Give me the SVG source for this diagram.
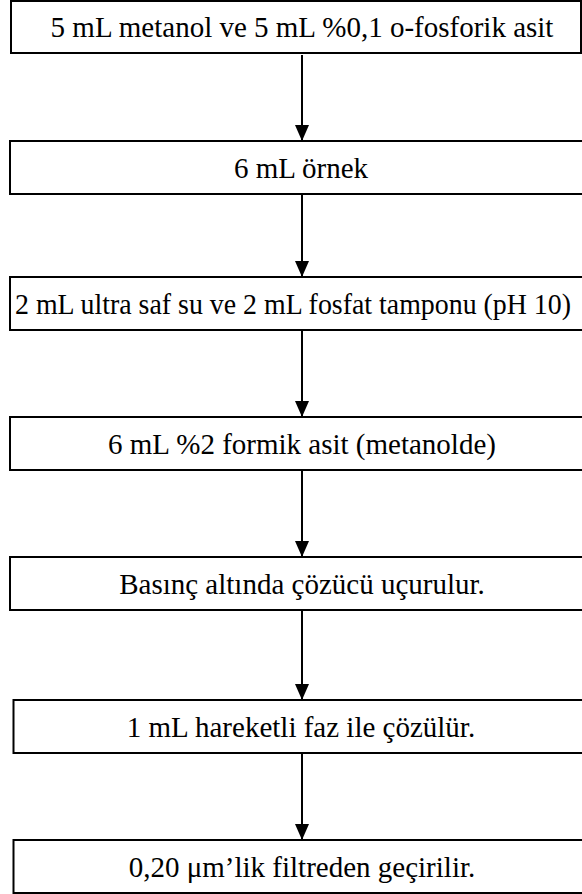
<svg xmlns="http://www.w3.org/2000/svg" width="582" height="894" viewBox="0 0 582 894">
<defs>
<style>
.box{fill:#fff;stroke:#000;stroke-width:2}
.t{font-family:"Liberation Serif","Times New Roman",serif;font-size:29px;fill:#000;text-anchor:middle}
.c{stroke:#000;stroke-width:2;fill:none;marker-end:url(#ah)}
</style>
<marker id="ah" viewBox="0 0 16 14" refX="16" refY="7" markerWidth="16" markerHeight="14" markerUnits="userSpaceOnUse" orient="auto">
<path d="M0,0 L16,7 L0,14 Z" fill="#000"/>
</marker>
</defs>
<rect width="582" height="894" fill="#fff"/>
<g id="connectors">
<line class="c" x1="302" y1="55" x2="302" y2="141"/>
<line class="c" x1="302" y1="194" x2="302" y2="277"/>
<line class="c" x1="302" y1="330" x2="302" y2="417"/>
<line class="c" x1="302" y1="470" x2="302" y2="557"/>
<line class="c" x1="302" y1="610" x2="302" y2="700"/>
<line class="c" x1="302" y1="753" x2="302" y2="840"/>
</g>
<g id="n1"><rect class="box" x="11" y="1" width="570" height="52"/><text class="t" x="302" y="37">5 mL metanol ve 5 mL %0,1 o-fosforik asit</text></g>
<g id="n2"><rect class="box" x="10" y="141" width="590" height="53"/><text class="t" x="301" y="178">6 mL örnek</text></g>
<g id="n3"><rect class="box" x="10" y="277" width="590" height="53"/><text class="t" x="293" y="314" textLength="556" lengthAdjust="spacingAndGlyphs">2 mL ultra saf su ve 2 mL fosfat tamponu (pH 10)</text></g>
<g id="n4"><rect class="box" x="10" y="417" width="590" height="53"/><text class="t" x="302" y="454">6 mL %2 formik asit (metanolde)</text></g>
<g id="n5"><rect class="box" x="10" y="557" width="590" height="53"/><text class="t" x="302" y="594">Basınç altında çözücü uçurulur.</text></g>
<g id="n6"><rect class="box" x="13.5" y="700" width="590" height="53"/><text class="t" x="301" y="737">1 mL hareketli faz ile çözülür.</text></g>
<g id="n7"><rect class="box" x="13.5" y="840" width="590" height="53"/><text class="t" x="302" y="877">0,20 μm’lik filtreden geçirilir.</text></g>
</svg>
